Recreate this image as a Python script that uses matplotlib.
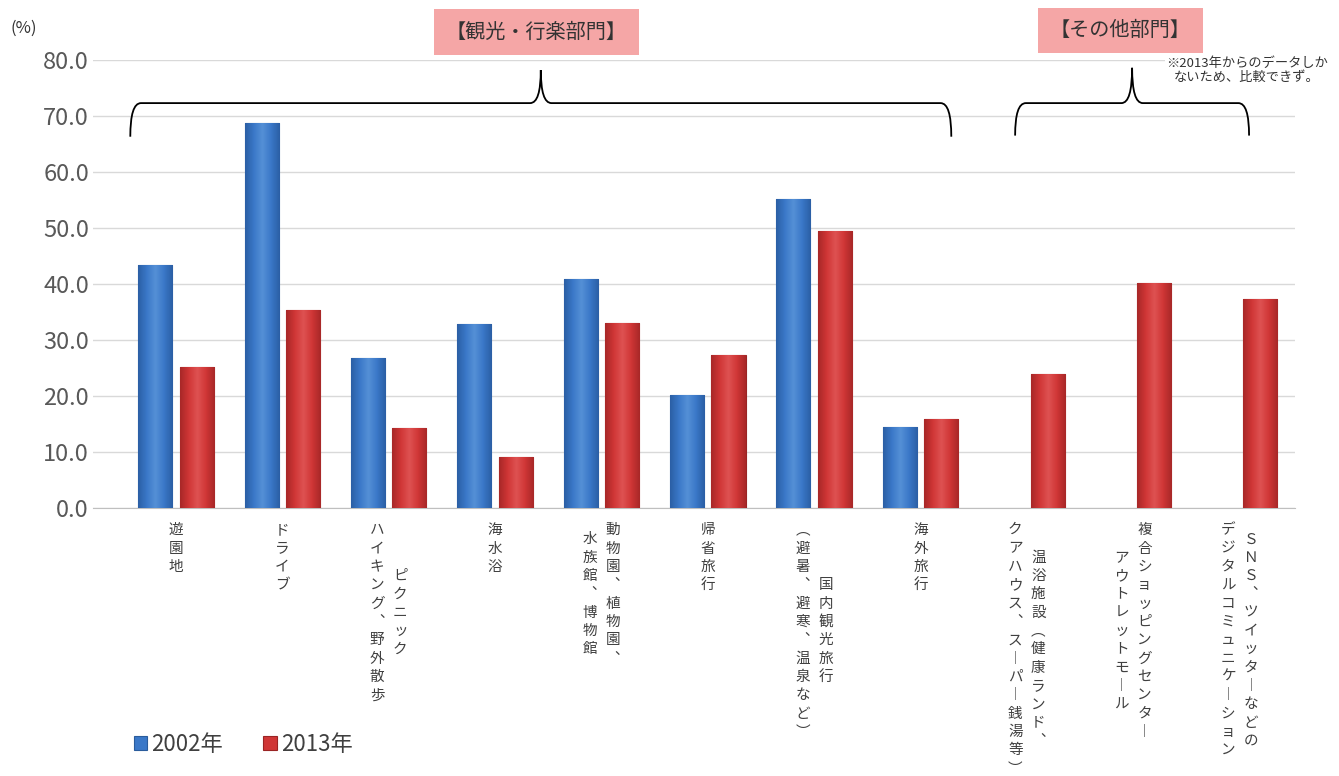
import numpy as np
import matplotlib
matplotlib.use('Agg')
import matplotlib.pyplot as plt
from matplotlib.path import Path
from matplotlib.patches import PathPatch
from matplotlib.colors import LinearSegmentedColormap

plt.rcParams['font.family'] = ['Noto Sans CJK JP', 'DejaVu Sans']

# columns of each vertical label are separated by '\n' (right column first)
categories = [
    '遊園地',
    'ドライブ',
    'ピクニック\nハイキング、野外散歩',
    '海水浴',
    '動物園、植物園、\n水族館、博物館',
    '帰省旅行',
    '国内観光旅行\n（避暑、避寒、温泉など）',
    '海外旅行',
    '温浴施設（健康ランド、\nクアハウス、スーパー銭湯等）',
    '複合ショッピングセンター\nアウトレットモール',
    'ＳＮＳ、ツイッターなどの\nデジタルコミュニケーション',
]
vals_2002 = [43.3, 68.8, 26.7, 32.9, 40.9, 20.1, 55.1, 14.4, np.nan, np.nan, np.nan]
vals_2013 = [25.1, 35.4, 14.2, 9.1, 33.1, 27.4, 49.4, 15.9, 23.9, 40.1, 37.4]
yticks = [0, 10, 20, 30, 40, 50, 60, 70, 80]
series_names = ['2002年', '2013年']

blue = '#3A78C8'
red = '#D03636'

fig = plt.figure(figsize=(13.39, 7.76), dpi=100)
ax = fig.add_axes([0.0695, 0.3454, 0.8975, 0.5773])

x = np.arange(len(categories))
w = 0.32
mask = ~np.isnan(vals_2002)
b1 = ax.bar(x[mask] - 0.195, np.array(vals_2002)[mask], w, color=blue,
            edgecolor='#2A5C9C', linewidth=0.8, zorder=3, label=series_names[0])
b2 = ax.bar(x + 0.195, vals_2013, w, color=red,
            edgecolor='#9A2424', linewidth=0.8, zorder=3, label=series_names[1])


def shade(bars, dark, base, light):
    cmap = LinearSegmentedColormap.from_list('g', [dark, base, light, base, dark])
    grad = np.linspace(0, 1, 64).reshape(1, -1)
    for b in bars:
        x0, y0 = b.get_x(), b.get_y()
        im = ax.imshow(grad, extent=[x0, x0 + b.get_width(), y0, y0 + b.get_height()],
                       aspect='auto', cmap=cmap, zorder=3.5, interpolation='bilinear')
        im.set_clip_path(b)


shade(b1, '#2B5FA5', '#3A78C8', '#5590D6')
shade(b2, '#A82828', '#D03636', '#DE5252')

ax.set_xlim(-0.78, 10.52)
ax.set_ylim(0, 80)
ax.set_yticks(yticks)
ax.set_yticklabels([f'{v:.1f}' for v in yticks])
ax.tick_params(axis='y', length=0, pad=3, labelsize=17, labelcolor='#595959')
ax.set_xticks([])
for s in ['top', 'right', 'left']:
    ax.spines[s].set_visible(False)
ax.spines['bottom'].set_color('#BFBFBF')
ax.grid(axis='y', color='#D9D9D9', linewidth=1)
ax.set_axisbelow(True)

# vertical category labels
vert = {'、': '︑', '（': '︵', '）': '︶', 'ー': '︱'}
step = 13.2
first = 16.0
gap = 16.6
for i, lab in enumerate(categories):
    cols = lab.split('\n')
    nmax = max(len(c) for c in cols)
    for j, col in enumerate(cols):
        dx = (len(cols) - 1) / 2 * gap - j * gap
        start = (nmax - len(col)) / 2
        for k, ch in enumerate(col):
            dy = -(first + (start + k) * step)
            ax.annotate(vert.get(ch, ch), xy=(i, 0), xycoords=('data', 'axes fraction'),
                        xytext=(dx, dy), textcoords='offset points',
                        ha='center', va='center', fontsize=10.5, color='#404040',
                        annotation_clip=False)


def brace(x0, x1, xm, yb, yt, yp, r=0.1):
    verts = [(x0, yt), (x0, yb), (x0 + r, yb), (xm - r, yb), (xm, yb), (xm, yp),
             (xm, yb), (xm + r, yb), (x1 - r, yb), (x1, yb), (x1, yt)]
    codes = [Path.MOVETO, Path.CURVE3, Path.CURVE3, Path.LINETO, Path.CURVE3, Path.CURVE3,
             Path.CURVE3, Path.CURVE3, Path.LINETO, Path.CURVE3, Path.CURVE3]
    ax.add_patch(PathPatch(Path(verts, codes), fill=False, lw=1.3, color='black',
                           clip_on=False, zorder=4))


brace(-0.43, 7.29, 3.43, 72.3, 66.3, 78.2)
brace(7.89, 10.09, 8.99, 72.3, 66.5, 78.6)

box = dict(boxstyle='square,pad=0.6', facecolor='#F5A6A6', edgecolor='none')
ax.text(3.39, 85.0, '【観光・行楽部門】', ha='center', va='center', fontsize=14.5,
        color='#333333', bbox=box, clip_on=False)
ax.text(8.88, 85.3, '【その他部門】', ha='center', va='center', fontsize=14.5,
        color='#333333', bbox=box, clip_on=False)

ax.text(10.07, 78.2, '※2013年からのデータしか\nないため、比較できず。', ha='center',
        va='center', fontsize=9.5, color='#333333', linespacing=1.1,
        bbox=dict(boxstyle='square,pad=0.1', facecolor='white', edgecolor='none'),
        clip_on=False, zorder=5)

fig.text(0.0075, 0.964, '(%)', fontsize=12, color='#333333', va='center')

ax.legend(handles=[b1, b2], labels=series_names, loc='lower left',
          bbox_to_anchor=(0.085, 0.0), bbox_transform=fig.transFigure, ncol=2,
          frameon=False, fontsize=16, handlelength=0.6, handleheight=0.6,
          handletextpad=0.2, columnspacing=1.8, labelcolor='#404040')

fig.savefig('out.png', dpi=100)
